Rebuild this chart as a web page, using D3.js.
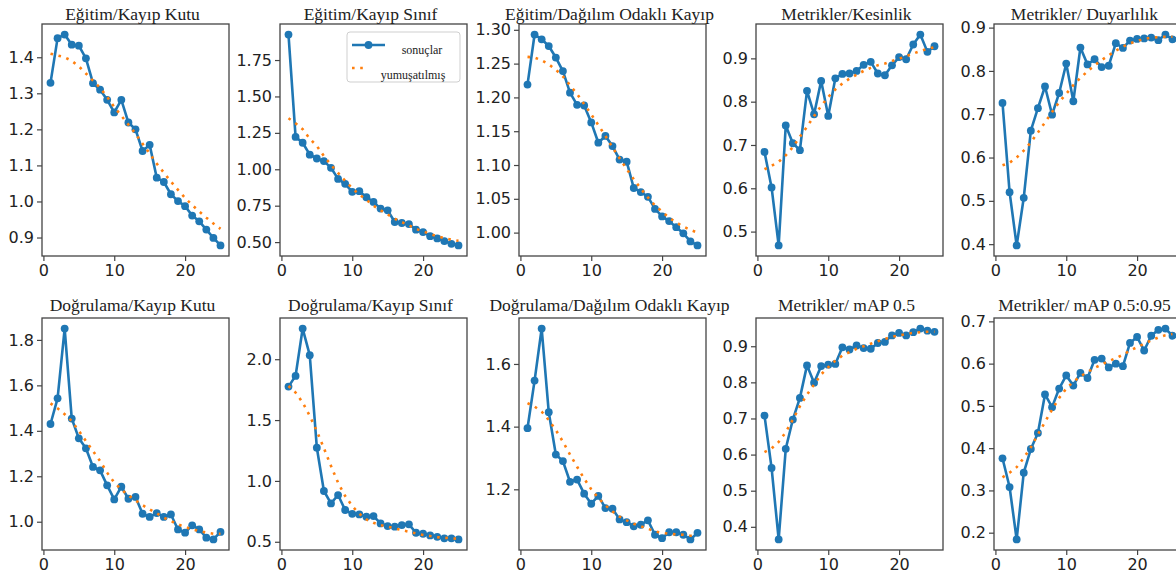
<!DOCTYPE html>
<html>
<head>
<meta charset="utf-8">
<script src="https://cdn.jsdelivr.net/npm/d3@7/dist/d3.min.js"></script>
<style>
  html, body { margin: 0; padding: 0; background: #fff; }
  svg { display: block; }
</style>
</head>
<body>
<svg id="chart" width="1176" height="579"></svg>
<script>
// ---------------- DATA ----------------
const epochs = [1,2,3,4,5,6,7,8,9,10,11,12,13,14,15,16,17,18,19,20,21,22,23,24,25];
const xTicks = [0, 10, 20];

const titles = [
  "Eğitim/Kayıp Kutu", "Eğitim/Kayıp Sınıf", "Eğitim/Dağılım Odaklı Kayıp", "Metrikler/Kesinlik", "Metrikler/ Duyarlılık",
  "Doğrulama/Kayıp Kutu", "Doğrulama/Kayıp Sınıf", "Doğrulama/Dağılım Odaklı Kayıp", "Metrikler/ mAP 0.5", "Metrikler/ mAP 0.5:0.95"
];
const legendLabels = ["sonuçlar", "yumuşatılmış"];

const trainBoxLoss = [1.329,1.453,1.463,1.435,1.432,1.397,1.328,1.310,1.282,1.247,1.282,1.219,1.200,1.140,1.157,1.066,1.054,1.020,1.001,0.987,0.961,0.945,0.922,0.899,0.878];
const trainBoxLossSmooth = [1.410,1.405,1.400,1.390,1.375,1.355,1.335,1.315,1.290,1.262,1.238,1.213,1.188,1.160,1.133,1.105,1.080,1.055,1.032,1.010,0.990,0.972,0.955,0.939,0.924];

const trainClsLoss = [1.925,1.222,1.182,1.100,1.074,1.056,1.010,0.934,0.900,0.845,0.850,0.808,0.776,0.730,0.718,0.638,0.631,0.624,0.585,0.569,0.541,0.525,0.507,0.488,0.477];
const trainClsLossSmooth = [1.350,1.316,1.275,1.210,1.160,1.090,1.030,0.975,0.920,0.870,0.826,0.790,0.750,0.718,0.690,0.660,0.637,0.615,0.590,0.574,0.555,0.540,0.527,0.516,0.509];

const trainDflLoss = [1.219,1.293,1.286,1.276,1.259,1.239,1.207,1.189,1.188,1.163,1.133,1.143,1.128,1.108,1.105,1.066,1.060,1.053,1.035,1.024,1.017,1.008,0.999,0.987,0.981];
const trainDflLossSmooth = [1.260,1.259,1.255,1.249,1.241,1.231,1.218,1.205,1.190,1.175,1.159,1.143,1.126,1.110,1.094,1.079,1.065,1.052,1.040,1.031,1.022,1.015,1.009,1.004,1.000];

const precision = [0.684,0.602,0.468,0.745,0.704,0.688,0.825,0.771,0.848,0.767,0.854,0.864,0.865,0.871,0.885,0.892,0.865,0.861,0.884,0.903,0.898,0.932,0.955,0.915,0.928];
const precisionSmooth = [0.644,0.652,0.661,0.676,0.695,0.719,0.742,0.767,0.790,0.811,0.828,0.842,0.853,0.862,0.871,0.878,0.884,0.888,0.894,0.899,0.905,0.911,0.917,0.922,0.926];

const recall = [0.726,0.520,0.397,0.507,0.662,0.714,0.764,0.699,0.749,0.817,0.730,0.854,0.815,0.827,0.809,0.812,0.864,0.853,0.870,0.874,0.875,0.877,0.871,0.884,0.873];
const recallSmooth = [0.582,0.588,0.600,0.616,0.635,0.658,0.681,0.705,0.728,0.747,0.767,0.784,0.799,0.813,0.825,0.836,0.847,0.856,0.864,0.869,0.874,0.877,0.878,0.879,0.879];

const valBoxLoss = [1.430,1.543,1.850,1.454,1.367,1.323,1.241,1.226,1.160,1.098,1.154,1.101,1.109,1.035,1.021,1.038,1.021,1.032,0.966,0.952,0.984,0.966,0.930,0.922,0.955];
const valBoxLossSmooth = [1.521,1.499,1.473,1.443,1.400,1.355,1.311,1.267,1.216,1.172,1.142,1.116,1.094,1.073,1.054,1.037,1.018,1.003,0.988,0.977,0.966,0.959,0.952,0.947,0.947];

const valClsLoss = [1.775,1.863,2.252,2.033,1.273,0.917,0.815,0.884,0.761,0.730,0.725,0.706,0.711,0.651,0.629,0.624,0.637,0.643,0.574,0.566,0.552,0.541,0.528,0.528,0.519];
const valClsLossSmooth = [1.780,1.726,1.644,1.534,1.410,1.268,1.123,0.985,0.876,0.794,0.730,0.684,0.656,0.637,0.624,0.610,0.596,0.582,0.569,0.555,0.547,0.538,0.533,0.528,0.525];

const valDflLoss = [1.395,1.547,1.713,1.446,1.311,1.290,1.224,1.231,1.186,1.154,1.179,1.140,1.138,1.104,1.095,1.082,1.087,1.101,1.055,1.044,1.063,1.063,1.055,1.040,1.061];
const valDflLossSmooth = [1.475,1.464,1.448,1.421,1.389,1.352,1.311,1.272,1.234,1.200,1.172,1.149,1.129,1.113,1.101,1.090,1.082,1.074,1.066,1.061,1.058,1.056,1.055,1.052,1.052];

const map50 = [0.708,0.563,0.365,0.616,0.697,0.757,0.847,0.799,0.845,0.849,0.851,0.897,0.891,0.902,0.895,0.893,0.909,0.912,0.930,0.937,0.930,0.939,0.949,0.943,0.940];
const map50Smooth = [0.607,0.617,0.635,0.662,0.697,0.734,0.766,0.794,0.822,0.842,0.860,0.874,0.884,0.893,0.900,0.907,0.914,0.920,0.926,0.930,0.934,0.937,0.939,0.940,0.940];

const map5095 = [0.376,0.308,0.184,0.342,0.398,0.436,0.527,0.497,0.541,0.572,0.548,0.578,0.566,0.609,0.612,0.591,0.600,0.594,0.649,0.663,0.631,0.666,0.680,0.683,0.666];
const map5095Smooth = [0.331,0.342,0.355,0.377,0.402,0.432,0.462,0.491,0.519,0.541,0.557,0.570,0.580,0.590,0.598,0.606,0.613,0.621,0.631,0.639,0.647,0.655,0.662,0.667,0.670];

const yTickLabels = [
  ["0.9","1.0","1.1","1.2","1.3","1.4"],
  ["0.50","0.75","1.00","1.25","1.50","1.75"],
  ["1.00","1.05","1.10","1.15","1.20","1.25","1.30"],
  ["0.5","0.6","0.7","0.8","0.9"],
  ["0.4","0.5","0.6","0.7","0.8","0.9"],
  ["1.0","1.2","1.4","1.6","1.8"],
  ["0.5","1.0","1.5","2.0"],
  ["1.2","1.4","1.6"],
  ["0.4","0.5","0.6","0.7","0.8","0.9"],
  ["0.2","0.3","0.4","0.5","0.6","0.7"]
];

const resultSeries = [trainBoxLoss, trainClsLoss, trainDflLoss, precision, recall, valBoxLoss, valClsLoss, valDflLoss, map50, map5095];
const smoothSeries = [trainBoxLossSmooth, trainClsLossSmooth, trainDflLossSmooth, precisionSmooth, recallSmooth, valBoxLossSmooth, valClsLossSmooth, valDflLossSmooth, map50Smooth, map5095Smooth];

// ---------------- LAYOUT ----------------
const colLeft = [42, 280, 519, 756, 994];
const rowTop = [24, 318];
const panelW = 187, panelH = 232;
const titleBaseline = [20, 311];

const blue = "#1f77b4", orange = "#ff7f0e";
const svg = d3.select("#chart");

function padded(ext) {
  const p = (ext[1] - ext[0]) * 0.05;
  return [ext[0] - p, ext[1] + p];
}

resultSeries.forEach((vals, i) => {
  const r = Math.floor(i / 5), c = i % 5;
  const g = svg.append("g").attr("transform", `translate(${colLeft[c]},${rowTop[r]})`);
  const smooth = smoothSeries[i];

  const x = d3.scaleLinear().domain(padded(d3.extent(epochs))).range([0, panelW]);
  const y = d3.scaleLinear().domain(padded(d3.extent(vals.concat(smooth)))).range([panelH, 0]);

  const yt = yTickLabels[i];
  const yAxis = d3.axisLeft(y).tickValues(yt.map(Number)).tickFormat((d, k) => yt[k]).tickSize(5).tickPadding(3);
  const xAxis = d3.axisBottom(x).tickValues(xTicks).tickFormat(d3.format("d")).tickSize(5).tickPadding(4);

  const ga = g.append("g").call(yAxis);
  const gb = g.append("g").attr("transform", `translate(0,${panelH})`).call(xAxis);
  [ga, gb].forEach(a => {
    a.select(".domain").remove();
    a.selectAll(".tick line").attr("stroke", "#444").attr("stroke-width", 1.2);
    a.selectAll(".tick text").attr("fill", "#222").style("font-family", "DejaVu Sans").style("font-size", "16px");
  });

  const line = d3.line().x((d, k) => x(epochs[k])).y(d => y(d));

  g.append("path").datum(vals)
    .attr("d", line).attr("fill", "none").attr("stroke", blue).attr("stroke-width", 2.6)
    .attr("stroke-linejoin", "round");
  g.append("g").selectAll("circle").data(vals).join("circle")
    .attr("cx", (d, k) => x(epochs[k])).attr("cy", d => y(d)).attr("r", 3.9).attr("fill", blue);

  g.append("path").datum(smooth)
    .attr("d", line).attr("fill", "none").attr("stroke", orange).attr("stroke-width", 2.6)
    .attr("stroke-dasharray", "2.6,5.6");

  g.append("rect").attr("x", 0).attr("y", 0).attr("width", panelW).attr("height", panelH)
    .attr("fill", "none").attr("stroke", "#444").attr("stroke-width", 1.3);

  svg.append("text")
    .attr("x", colLeft[c] + panelW / 2 - 3).attr("y", titleBaseline[r])
    .attr("text-anchor", "middle")
    .style("font-family", "Liberation Serif").style("font-size", "17.5px").attr("fill", "#222")
    .text(titles[i]);

  if (i === 1) {
    const lg = g.append("g");
    lg.append("rect").attr("x", 67).attr("y", 8).attr("width", 113).attr("height", 50).attr("rx", 3)
      .attr("fill", "#fff").attr("fill-opacity", 0.85).attr("stroke", "#cfcfcf").attr("stroke-width", 1);
    lg.append("line").attr("x1", 72).attr("x2", 105).attr("y1", 21).attr("y2", 21)
      .attr("stroke", blue).attr("stroke-width", 2.6);
    lg.append("circle").attr("cx", 88.5).attr("cy", 21).attr("r", 3.9).attr("fill", blue);
    lg.append("line").attr("x1", 72).attr("x2", 86).attr("y1", 44).attr("y2", 44)
      .attr("stroke", orange).attr("stroke-width", 2.6).attr("stroke-dasharray", "2.6,5.6");
    lg.append("text").attr("x", 142).attr("y", 30).attr("text-anchor", "middle")
      .style("font-family", "Liberation Serif").style("font-size", "12px").attr("fill", "#222").text(legendLabels[0]);
    lg.append("text").attr("x", 133).attr("y", 55).attr("text-anchor", "middle")
      .style("font-family", "Liberation Serif").style("font-size", "12px").attr("fill", "#222").text(legendLabels[1]);
  }
});
</script>
</body>
</html>
